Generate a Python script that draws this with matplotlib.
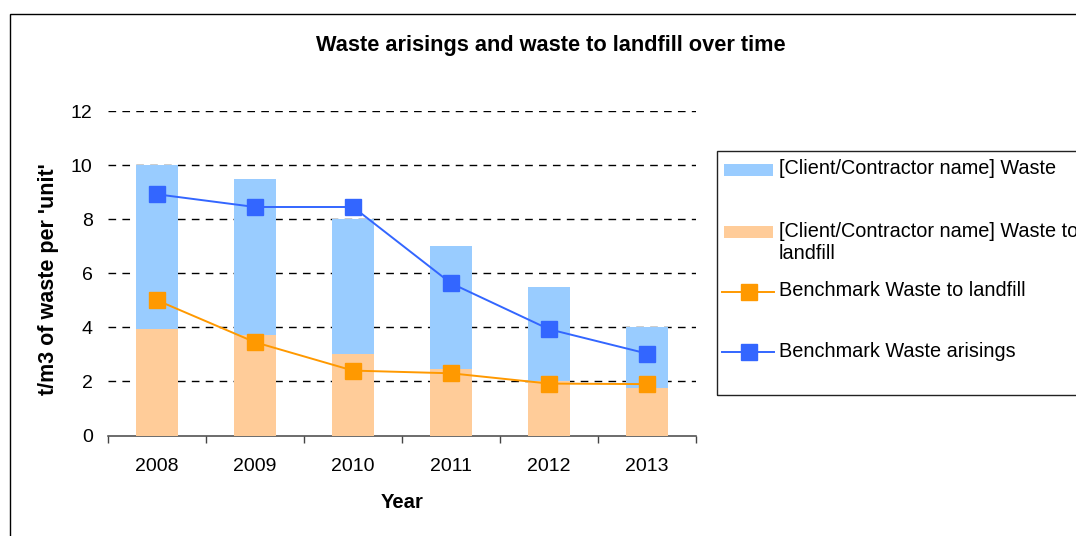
import matplotlib
matplotlib.use('Agg')
import matplotlib.pyplot as plt
from matplotlib.patches import Rectangle
from matplotlib.lines import Line2D
import numpy as np

# ---- data ----
years = ['2008', '2009', '2010', '2011', '2012', '2013']
client_waste = [10.0, 9.5, 8.0, 7.0, 5.5, 4.0]
client_landfill = [3.95, 3.7, 3.0, 2.45, 2.0, 1.75]
bench_landfill = [5.0, 3.45, 2.4, 2.3, 1.92, 1.9]
bench_arisings = [8.92, 8.45, 8.45, 5.63, 3.93, 3.03]
yticks = [0, 2, 4, 6, 8, 10, 12]

legend_labels = ['[Client/Contractor name] Waste',
                 '[Client/Contractor name] Waste to\nlandfill',
                 'Benchmark Waste to landfill',
                 'Benchmark Waste arisings']

C_WASTE = '#99CCFF'
C_LANDFILL = '#FFCC99'
C_BL = '#FF9900'
C_BA = '#3366FF'

plt.rcParams['font.family'] = ['Liberation Sans', 'DejaVu Sans']

W, H = 1076, 536
fig = plt.figure(figsize=(W / 100, H / 100), dpi=100)


def fx(px):
    return px / W


def fy(py):
    return 1 - py / H


ax_l, ax_r, ax_b, ax_t = 108, 696, 435.5, 111
ax = fig.add_axes([fx(ax_l), fy(ax_b), (ax_r - ax_l) / W, (ax_b - ax_t) / H])

x = np.arange(len(years))
bw = 0.42
ax.bar(x, client_waste, width=bw, color=C_WASTE, zorder=2)
ax.bar(x, client_landfill, width=bw, color=C_LANDFILL, zorder=3)
ax.plot(x, bench_landfill, color=C_BL, lw=1.4, marker='s', ms=12,
        mfc=C_BL, mec=C_BL, zorder=4)
ax.plot(x, bench_arisings, color=C_BA, lw=1.4, marker='s', ms=12,
        mfc=C_BA, mec=C_BA, zorder=4)

ax.set_xlim(-0.5, len(years) - 0.5)
ax.set_ylim(0, 12)
ax.set_yticks(yticks)
ax.set_yticklabels([str(v) for v in yticks])
for v in yticks[1:]:
    ax.axhline(v, color='black', lw=1.0, ls=(0, (5.5, 4.5)), zorder=1)

ax.set_xticks(x)
ax.set_xticklabels(years)
ax.set_xticks(np.arange(-0.5, len(years), 1.0), minor=True)
ax.tick_params(axis='x', which='major', length=0, pad=16, labelsize=14)
ax.tick_params(axis='x', which='minor', length=5, width=1.0, color='#444444',
               direction='out')
ax.tick_params(axis='y', length=0, pad=11, labelsize=14)

for s in ['left', 'top', 'right']:
    ax.spines[s].set_visible(False)
ax.spines['bottom'].set_color('#444444')
ax.spines['bottom'].set_linewidth(1.1)

ax.set_xlabel('Year', fontsize=14.6, fontweight='bold', va='center')
ax.xaxis.set_label_coords(0.5, (ax_b - 502) / (ax_b - ax_t))
ax.set_ylabel("t/m3 of waste per 'unit'", fontsize=15.5, fontweight='bold',
              va='center')
ax.yaxis.set_label_coords((48.5 - ax_l) / (ax_r - ax_l),
                          (ax_b - 279) / (ax_b - ax_t))

fig.text(fx(551), fy(45), 'Waste arisings and waste to landfill over time',
         ha='center', va='center', fontsize=15.7, fontweight='bold')

# outer chart frame (extends beyond the image on right/bottom)
fig.add_artist(Rectangle((fx(10), -0.2), 2, fy(14) + 0.2,
                         transform=fig.transFigure, fill=False,
                         edgecolor='black', lw=1.0))

# ---- legend (manual, Excel-like layout) ----
fig.add_artist(Rectangle((fx(716.5), fy(395)), (1200 - 716.5) / W,
                         (395 - 151) / H, transform=fig.transFigure,
                         fill=False, edgecolor='#222222', lw=1.0))
# bar swatches
for yc, col in [(170, C_WASTE), (231.5, C_LANDFILL)]:
    fig.add_artist(Rectangle((fx(724), fy(yc + 6)), 49 / W, 12 / H,
                             transform=fig.transFigure, facecolor=col,
                             edgecolor='none'))
# line swatches
for yc, col in [(291.7, C_BL), (351.7, C_BA)]:
    fig.add_artist(Line2D([fx(722), fx(774)], [fy(yc), fy(yc)],
                          transform=fig.transFigure, color=col, lw=1.4))
    fig.add_artist(Line2D([fx(748.5)], [fy(yc)], transform=fig.transFigure,
                          marker='s', ms=12, mfc=col, mec=col, ls='none'))

lx = fx(779)
fig.text(lx, fy(168), legend_labels[0], ha='left', va='center', fontsize=14.3)
fig.text(lx, fy(242.5), legend_labels[1], ha='left', va='center',
         fontsize=14.3, linespacing=1.25)
fig.text(lx, fy(290.7), legend_labels[2], ha='left', va='center', fontsize=14.3)
fig.text(lx, fy(351.7), legend_labels[3], ha='left', va='center', fontsize=14.3)

fig.savefig('out.png', dpi=100)
